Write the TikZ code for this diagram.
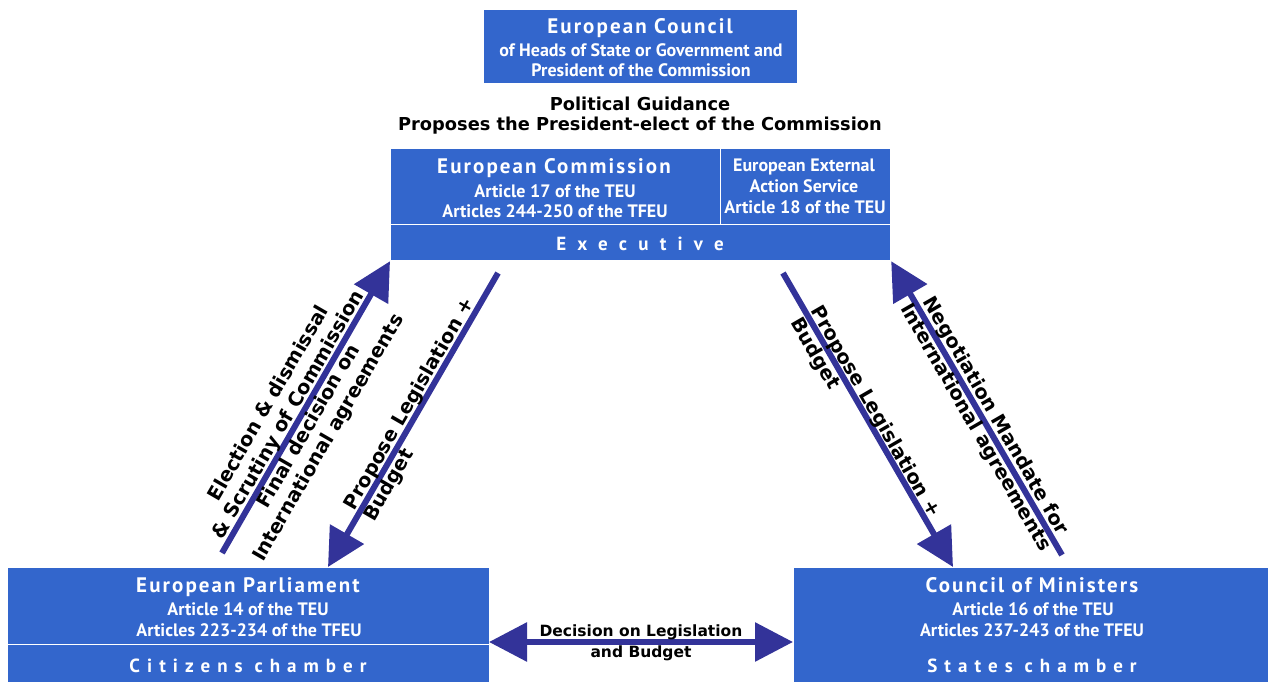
\documentclass[tikz,border=0pt]{standalone}
\usepackage{fontspec}
\setmainfont{PT Sans}
\newfontfamily\titlefamily{PT Sans}[LetterSpace=10]
\newfontfamily\execfamily{PT Sans}[LetterSpace=59]
\newfontfamily\chamberfamily{PT Sans}[LetterSpace=37]
\newfontfamily\lblfamily{DejaVu Sans}
\usetikzlibrary{arrows.meta}
\definecolor{boxblue}{HTML}{3366CC}
\definecolor{arrowblue}{HTML}{333399}
\newcommand\myTitleFont{\titlefamily\bfseries\fontsize{21}{24}\selectfont}
\newcommand\mySubFont{\bfseries\fontsize{18}{20}\selectfont}
\newcommand\myExecFont{\execfamily\bfseries\fontsize{19}{22}\selectfont}
\newcommand\myChamberFont{\chamberfamily\bfseries\fontsize{19}{22}\selectfont}
\newcommand\myLblFont{\lblfamily\bfseries\fontsize{17.8}{23}\selectfont}
\newcommand\myDiagFont{\lblfamily\bfseries\fontsize{19.5}{23}\selectfont}
\newcommand\myDecFont{\lblfamily\bfseries\fontsize{15.5}{21}\selectfont}
\begin{document}
\begin{tikzpicture}[x=1pt,y=1pt,
  box/.style={fill=boxblue, draw=white, line width=1.2pt, inner sep=0, anchor=north west},
  wtxt/.style={text=white, inner sep=0, anchor=base},
  btxt/.style={text=black, inner sep=0, anchor=base},
  diag/.style={text=black, inner sep=0, font=\myDiagFont},
  conn/.style={draw=arrowblue, line width=6pt, -{Triangle[length=38pt,width=38pt]}},
  dconn/.style={draw=arrowblue, line width=6pt, {Triangle[length=38pt,width=38pt]}-{Triangle[length=38pt,width=38pt]}}]
\useasboundingbox (0,0) rectangle (1270,-682);

% boxes
\node[box, minimum width=314, minimum height=74] (euco) at (483,-9) {};
\node[box, minimum width=330, minimum height=76] (com) at (390,-148) {};
\node[box, minimum width=170, minimum height=76] (eeas) at (720,-148) {};
\node[box, minimum width=500, minimum height=36] (exec) at (390,-224) {};
\node[box, minimum width=482, minimum height=77] (ep) at (7,-567) {};
\node[box, minimum width=482, minimum height=40] (epc) at (7,-644) {};
\node[box, minimum width=475, minimum height=117] (cm) at (793,-567) {};

% European Council text
\node[wtxt, font=\myTitleFont] (euco1) at (640,-34) {European Council};
\node[wtxt, font=\mySubFont] (euco2) at (641,-57) {of Heads of State or Government and};
\node[wtxt, font=\mySubFont] (euco3) at (641,-77) {President of the Commission};

% guidance
\node[btxt, font=\myLblFont] (pg1) at (640,-111) {Political Guidance};
\node[btxt, font=\myLblFont] (pg2) at (640,-131) {Proposes the President-elect of the Commission};

% Commission
\node[wtxt, font=\myTitleFont] (com1) at (554,-174) {European Commission};
\node[wtxt, font=\mySubFont] (com2) at (555,-197) {Article 17 of the TEU};
\node[wtxt, font=\mySubFont] (com3) at (555,-218) {Articles 244-250 of the TFEU};
\node[wtxt, font=\mySubFont] (eeas1) at (804,-172) {European External};
\node[wtxt, font=\mySubFont] (eeas2) at (804,-193) {Action Service};
\node[wtxt, font=\mySubFont] (eeas3) at (805,-214) {Article 18 of the TEU};
\node[wtxt, font=\myExecFont] (exec1) at (640,-251) {Executive};

% Parliament
\node[wtxt, font=\myTitleFont] (ep1) at (248,-592) {European Parliament};
\node[wtxt, font=\mySubFont] (ep2) at (248,-615) {Article 14 of the TEU};
\node[wtxt, font=\mySubFont] (ep3) at (249,-636) {Articles 223-234 of the TFEU};
\node[wtxt, font=\myChamberFont] (epc1) at (248,-672) {Citizens chamber};

% Council of Ministers
\node[wtxt, font=\myTitleFont] (cm1) at (1032,-592) {Council of Ministers};
\node[wtxt, font=\mySubFont] (cm2) at (1033,-615) {Article 16 of the TEU};
\node[wtxt, font=\mySubFont] (cm3) at (1032,-636) {Articles 237-243 of the TFEU};
\node[wtxt, font=\myChamberFont] (cm4) at (1032,-672) {States chamber};

% arrow end coordinates
\coordinate (elTail) at (222,-553);
\coordinate (plTail) at (498,-273);
\coordinate (plTip) at (328,-567);
\coordinate (prTail) at (783,-273);
\coordinate (prTip) at (953,-567);
\coordinate (ngTail) at (1062,-555);
\coordinate (dL) at (489,-642);
\coordinate (dR) at (793,-642);

\draw[conn] (elTail) -- (exec.south west);
\draw[conn] (plTail) -- (plTip);
\draw[conn] (prTail) -- (prTip);
\draw[conn] (ngTail) -- (exec.south east);
\draw[dconn] (dL) -- (dR);

% diagonal labels
\node[diag, rotate=60, align=center] (lbl1) at (299,-421) {Election \& dismissal\\\& Scrutiny of Commission\\Final decision on\\International agreements};
\node[diag, rotate=60, align=left] (lbl2) at (420,-410) {Propose Legislation +\\Budget};
\node[diag, rotate=-60, align=left] (lbl3) at (865,-418) {Propose Legislation +\\Budget};
\node[diag, rotate=-60, align=center] (lbl4) at (985,-422) {Negotiation Mandate for\\International agreements};

% decision label
\node[btxt, font=\myDecFont] (dec1) at (641,-636) {Decision on Legislation};
\node[btxt, font=\myDecFont] (dec2) at (641,-657) {and Budget};
\end{tikzpicture}
\end{document}
